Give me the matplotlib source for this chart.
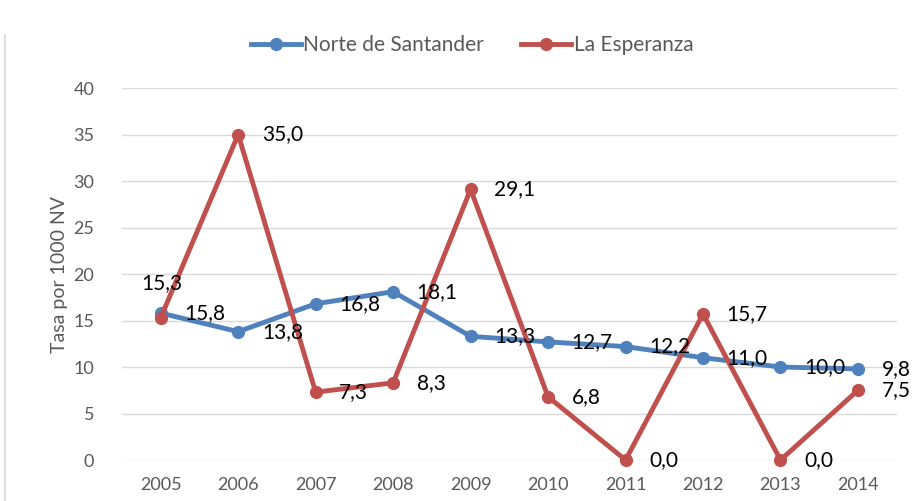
import matplotlib.pyplot as plt
from matplotlib.lines import Line2D

years = ['2005', '2006', '2007', '2008', '2009', '2010', '2011', '2012', '2013', '2014']
norte = [15.8, 13.8, 16.8, 18.1, 13.3, 12.7, 12.2, 11.0, 10.0, 9.8]
esperanza = [15.3, 35.0, 7.3, 8.3, 29.1, 6.8, 0.0, 15.7, 0.0, 7.5]

BLUE = '#4F81BD'
RED = '#C0504D'
GRAY = '#595959'

plt.rcParams['font.family'] = ['Lato', 'DejaVu Sans']


def fmt(v):
    return f'{v:.1f}'.replace('.', ',')


def main():
    fig = plt.figure(figsize=(9.15, 5.01), dpi=100)
    ax = fig.add_axes([0.1333, 0.0818, 0.8467, 0.7425])

    x = list(range(len(years)))
    ax.plot(x, norte, color=BLUE, lw=3.5, marker='o', ms=8.5,
            label='Norte de Santander', zorder=3)
    ax.plot(x, esperanza, color=RED, lw=3.5, marker='o', ms=8.5,
            label='La Esperanza', zorder=4)

    # etiquetas de datos
    for i, v in enumerate(norte):
        ax.annotate(fmt(v), (i, v), xytext=(17, 0), textcoords='offset points',
                    ha='left', va='center', fontsize=15, color='black', zorder=5)
    for i, v in enumerate(esperanza):
        if i == 0:
            ax.annotate(fmt(v), (i, v), xytext=(1, 25), textcoords='offset points',
                        ha='center', va='center', fontsize=15, color='black', zorder=5)
        else:
            ax.annotate(fmt(v), (i, v), xytext=(17, 0), textcoords='offset points',
                        ha='left', va='center', fontsize=15, color='black', zorder=5)

    ax.set_xlim(-0.5, len(years) - 0.5)
    ax.set_ylim(0, 40)
    ax.set_yticks(range(0, 41, 5))
    ax.set_xticks(x)
    ax.set_xticklabels(years)
    ax.tick_params(axis='both', length=0, labelsize=13, colors=GRAY)
    ax.tick_params(axis='y', pad=20)
    ax.tick_params(axis='x', pad=12)
    ax.grid(axis='y', color='#D9D9D9', lw=1)
    ax.set_axisbelow(True)
    for s in ax.spines.values():
        s.set_visible(False)
    for line in ax.lines:
        line.set_clip_on(False)

    ax.set_ylabel('Tasa por 1000 NV', fontsize=14, color=GRAY, labelpad=4)

    ax.legend(loc='center', bbox_to_anchor=(0.452, 1.115), ncol=2, frameon=False,
              fontsize=15, labelcolor=GRAY, handlelength=2.4, columnspacing=1.8,
              handletextpad=0.1)

    fig.add_artist(Line2D([0.0055, 0.0055], [0, 0.93], color='#D9D9D9', lw=1.2))

    fig.savefig('out.png', dpi=100)


if __name__ == '__main__':
    main()
